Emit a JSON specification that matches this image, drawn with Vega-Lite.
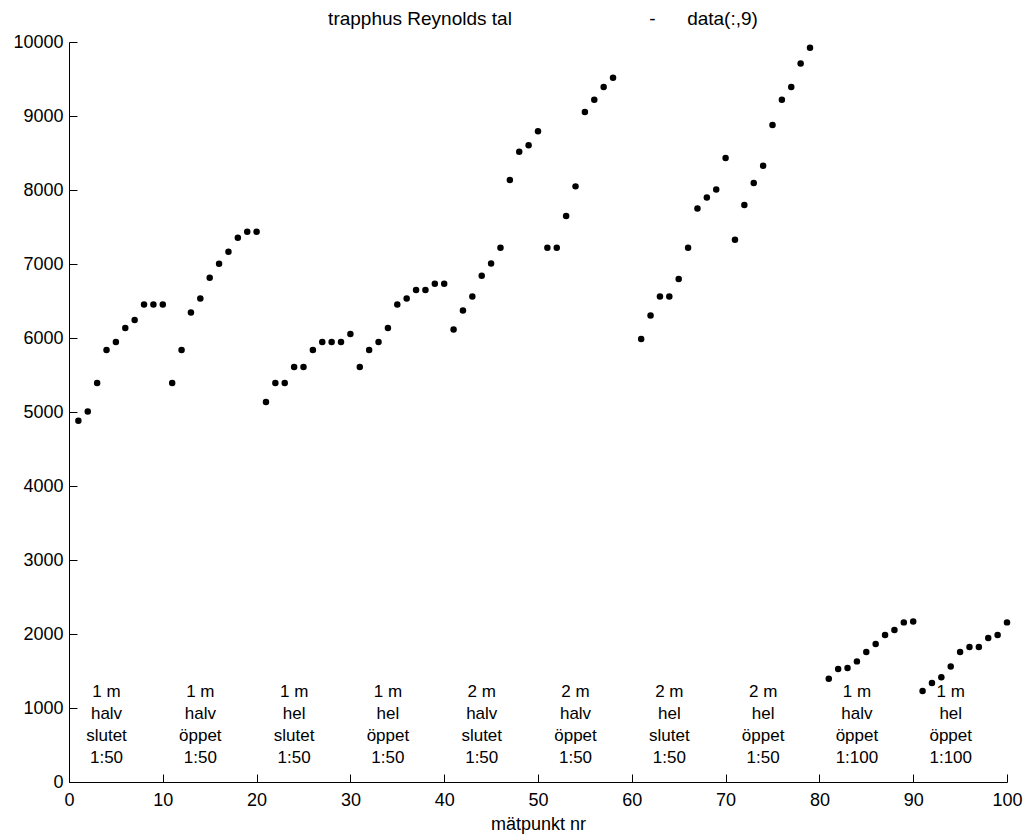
{
  "$schema": "https://vega.github.io/schema/vega-lite/v6.json",
  "width": 938,
  "height": 740,
  "autosize": {"type": "none"},
  "padding": {"left": 69, "top": 42, "right": 20, "bottom": 57},
  "background": "white",
  "config": {
    "view": {"stroke": null},
    "font": "Liberation Sans"
  },
  "title": {
    "text": "trapphus Reynolds tal\u00a0\u00a0\u00a0\u00a0\u00a0\u00a0\u00a0\u00a0\u00a0\u00a0\u00a0\u00a0\u00a0\u00a0\u00a0\u00a0\u00a0\u00a0\u00a0\u00a0\u00a0\u00a0\u00a0\u00a0\u00a0\u00a0-\u00a0\u00a0\u00a0\u00a0\u00a0\u00a0data(:,9)",
    "font": "Liberation Sans",
    "fontSize": 19,
    "fontWeight": "normal",
    "color": "black",
    "anchor": "middle",
    "baseline": "bottom",
    "offset": 5,
    "dx": 5,
    "dy": 20
  },
  "datasets": {
    "pts": [
      {"nr": 1, "re": 4882}, {"nr": 2, "re": 5008}, {"nr": 3, "re": 5392}, {"nr": 4, "re": 5838}, {"nr": 5, "re": 5946},
      {"nr": 6, "re": 6135}, {"nr": 7, "re": 6243}, {"nr": 8, "re": 6454}, {"nr": 9, "re": 6454}, {"nr": 10, "re": 6454},
      {"nr": 11, "re": 5392}, {"nr": 12, "re": 5838}, {"nr": 13, "re": 6346}, {"nr": 14, "re": 6535}, {"nr": 15, "re": 6814},
      {"nr": 16, "re": 7004}, {"nr": 17, "re": 7166}, {"nr": 18, "re": 7355}, {"nr": 19, "re": 7436}, {"nr": 20, "re": 7436},
      {"nr": 21, "re": 5135}, {"nr": 22, "re": 5392}, {"nr": 23, "re": 5392}, {"nr": 24, "re": 5608}, {"nr": 25, "re": 5608},
      {"nr": 26, "re": 5838}, {"nr": 27, "re": 5946}, {"nr": 28, "re": 5946}, {"nr": 29, "re": 5946}, {"nr": 30, "re": 6054},
      {"nr": 31, "re": 5608}, {"nr": 32, "re": 5838}, {"nr": 33, "re": 5946}, {"nr": 34, "re": 6135}, {"nr": 35, "re": 6454},
      {"nr": 36, "re": 6535}, {"nr": 37, "re": 6649}, {"nr": 38, "re": 6649}, {"nr": 39, "re": 6734}, {"nr": 40, "re": 6734},
      {"nr": 41, "re": 6116}, {"nr": 42, "re": 6373}, {"nr": 43, "re": 6562}, {"nr": 44, "re": 6840}, {"nr": 45, "re": 7008},
      {"nr": 46, "re": 7220}, {"nr": 47, "re": 8135}, {"nr": 48, "re": 8518}, {"nr": 49, "re": 8604}, {"nr": 50, "re": 8793},
      {"nr": 51, "re": 7220}, {"nr": 52, "re": 7220}, {"nr": 53, "re": 7649}, {"nr": 54, "re": 8049}, {"nr": 55, "re": 9054},
      {"nr": 56, "re": 9220}, {"nr": 57, "re": 9392}, {"nr": 58, "re": 9518},
      {"nr": 61, "re": 5986}, {"nr": 62, "re": 6305}, {"nr": 63, "re": 6562}, {"nr": 64, "re": 6562}, {"nr": 65, "re": 6797},
      {"nr": 66, "re": 7220}, {"nr": 67, "re": 7751}, {"nr": 68, "re": 7900}, {"nr": 69, "re": 8008}, {"nr": 70, "re": 8432},
      {"nr": 71, "re": 7328}, {"nr": 72, "re": 7797}, {"nr": 73, "re": 8095}, {"nr": 74, "re": 8328}, {"nr": 75, "re": 8878},
      {"nr": 76, "re": 9220}, {"nr": 77, "re": 9392}, {"nr": 78, "re": 9711}, {"nr": 79, "re": 9923},
      {"nr": 81, "re": 1396}, {"nr": 82, "re": 1527}, {"nr": 83, "re": 1540}, {"nr": 84, "re": 1630}, {"nr": 85, "re": 1757},
      {"nr": 86, "re": 1865}, {"nr": 87, "re": 1986}, {"nr": 88, "re": 2054}, {"nr": 89, "re": 2157}, {"nr": 90, "re": 2170},
      {"nr": 91, "re": 1230}, {"nr": 92, "re": 1338}, {"nr": 93, "re": 1414}, {"nr": 94, "re": 1562}, {"nr": 95, "re": 1757},
      {"nr": 96, "re": 1824}, {"nr": 97, "re": 1824}, {"nr": 98, "re": 1946}, {"nr": 99, "re": 1986}, {"nr": 100, "re": 2157}
    ],
    "labels": [
      {"mitt": 4, "txt": "1 m\nhalv\nslutet\n1:50"},
      {"mitt": 14, "txt": "1 m\nhalv\nöppet\n1:50"},
      {"mitt": 24, "txt": "1 m\nhel\nslutet\n1:50"},
      {"mitt": 34, "txt": "1 m\nhel\nöppet\n1:50"},
      {"mitt": 44, "txt": "2 m\nhalv\nslutet\n1:50"},
      {"mitt": 54, "txt": "2 m\nhalv\nöppet\n1:50"},
      {"mitt": 64, "txt": "2 m\nhel\nslutet\n1:50"},
      {"mitt": 74, "txt": "2 m\nhel\nöppet\n1:50"},
      {"mitt": 84, "txt": "1 m\nhalv\nöppet\n1:100"},
      {"mitt": 94, "txt": "1 m\nhel\nöppet\n1:100"}
    ]
  },
  "layer": [
    {
      "data": {"name": "pts"},
      "mark": {"type": "point", "filled": true, "shape": "circle", "size": 42, "color": "black", "opacity": 1},
      "encoding": {
        "x": {
          "field": "nr", "type": "quantitative",
          "scale": {"domain": [0, 100], "nice": false, "zero": false},
          "axis": {
            "title": "mätpunkt nr",
            "values": [0, 10, 20, 30, 40, 50, 60, 70, 80, 90, 100],
            "format": "d",
            "grid": false,
            "domainColor": "black", "tickColor": "black",
            "tickSize": -8,
            "labelFont": "Liberation Sans", "labelFontSize": 18, "labelColor": "black",
            "labelPadding": 17,
            "labelFlush": false,
            "titleFont": "Liberation Sans", "titleFontSize": 18, "titleFontWeight": "normal", "titleColor": "black",
            "titlePadding": 6
          }
        },
        "y": {
          "field": "re", "type": "quantitative",
          "scale": {"domain": [0, 10000], "nice": false, "zero": true},
          "axis": {
            "title": null,
            "values": [0, 1000, 2000, 3000, 4000, 5000, 6000, 7000, 8000, 9000, 10000],
            "format": "d",
            "grid": false,
            "domainColor": "black", "tickColor": "black",
            "tickSize": -8,
            "labelFont": "Liberation Sans", "labelFontSize": 18, "labelColor": "black",
            "labelPadding": 14,
            "labelFlush": false
          }
        }
      }
    },
    {
      "data": {"name": "labels"},
      "mark": {"type": "text", "align": "center", "baseline": "alphabetic", "lineBreak": "\n", "lineHeight": 22, "font": "Liberation Sans", "fontSize": 17, "color": "black"},
      "encoding": {
        "x": {"field": "mitt", "type": "quantitative"},
        "y": {"datum": 1150},
        "text": {"field": "txt"}
      }
    }
  ]
}
